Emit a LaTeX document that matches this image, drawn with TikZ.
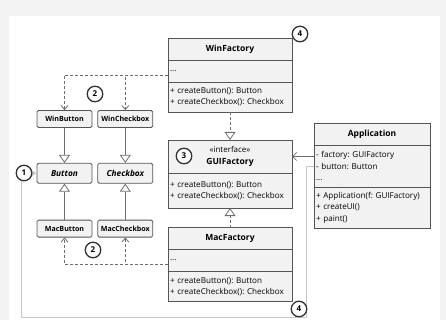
\documentclass[tikz,border=0pt]{standalone}
\usepackage{fontspec}
\setmainfont{Open Sans}
\usetikzlibrary{arrows.meta,positioning}
\frenchspacing
\definecolor{umlline}{HTML}{555555}
\definecolor{umlfill}{HTML}{F2F2F2}
\definecolor{pagegray}{HTML}{F3F3F3}
\definecolor{ghostline}{HTML}{C8C8C8}
\tikzset{
	classhead/.style={rectangle, draw=umlline, fill=umlfill, line width=0.8pt, outer sep=0pt,
		text width=120pt, inner xsep=2pt, align=center, minimum height=22pt,
		font=\fontsize{8.5}{10}\selectfont\bfseries},
	classpart/.style={rectangle, draw=umlline, fill=umlfill, line width=0.8pt, outer sep=0pt,
		text width=120pt, inner xsep=2pt, align=left, minimum height=22pt,
		font=\fontsize{8.1}{10.5}\selectfont},
	smallbox/.style={rectangle, draw=umlline, fill=umlfill, rounded corners=1.5pt, line width=0.8pt,
		minimum width=55pt, minimum height=17pt, inner sep=1pt, font=\fontsize{7.1}{8}\selectfont\bfseries},
	stepnum/.style={circle, draw=black!80, fill=white, line width=1.3pt, minimum size=15.5pt,
		inner sep=0pt, font=\fontsize{8}{8}\selectfont\bfseries},
	inheritarr/.style={-{Triangle[open, length=8pt, width=11pt, fill=white]}, draw=umlline!85, line width=0.8pt},
	realizearr/.style={inheritarr, dash pattern=on 3pt off 2pt},
	deparr/.style={-{Straight Barb[length=4pt, width=7pt]}, draw=umlline!85, line width=0.8pt, dash pattern=on 3pt off 2pt},
	assocarr/.style={-{Straight Barb[length=4pt, width=8pt]}, draw=umlline!85, line width=0.8pt},
	ghostarr/.style={-{Triangle[length=5pt, width=6pt, fill=ghostline]}, draw=ghostline, line width=0.8pt}
}
\begin{document}
\begin{tikzpicture}[x=1pt, y=-1pt]
	\fill[pagegray] (0,0) rectangle (446,320);
	\fill[white] (9,16) rectangle (440,320);
	% factories
	\node[classhead] (wfhead) at (230,49) {WinFactory};
	\node[classpart, below=0pt of wfhead] (wfattr) {...};
	\node[classpart, below=0pt of wfattr, minimum height=30pt] (wfops) {+ createButton(): Button\\+ createCheckbox(): Checkbox};
	\node[classhead, minimum height=33pt, font=\fontsize{8}{11.5}\selectfont] (guihead) at (230,156.5) {«interface»\\\textbf{\fontsize{8.5}{11.5}\selectfont GUIFactory}};
	\node[classpart, below=0pt of guihead, minimum height=35pt] (guiops) {+ createButton(): Button\\+ createCheckbox(): Checkbox};
	\node[classhead] (mfhead) at (230,238.5) {MacFactory};
	\node[classpart, below=0pt of mfhead] (mfattr) {...};
	\node[classpart, below=0pt of mfattr, minimum height=30pt] (mfops) {+ createButton(): Button\\+ createCheckbox(): Checkbox};
	% client
	\node[classhead, text width=112pt] (apphead) at (372,134) {Application};
	\node[classpart, text width=112pt, below=0pt of apphead, minimum height=42pt, font=\fontsize{8.1}{11.8}\selectfont] (appfld) {- factory: GUIFactory\\- button: Button\\...};
	\node[classpart, text width=112pt, below=0pt of appfld, minimum height=41pt, font=\fontsize{8.1}{11.5}\selectfont] (appops) {+ Application(f: GUIFactory)\\+ createUI()\\+ paint()};
	% products
	\node[smallbox] (winbtn) at (64.5,119) {WinButton};
	\node[smallbox, right=5pt of winbtn] (wincb) {WinCheckbox};
	\node[smallbox, below=35pt of winbtn, minimum height=20pt, font=\fontsize{8.3}{9}\selectfont\bfseries\itshape] (btn) {Button};
	\node[smallbox, right=5pt of btn, minimum height=20pt, font=\fontsize{8.3}{9}\selectfont\bfseries\itshape] (cb) {Checkbox};
	\node[smallbox, below=36pt of btn] (macbtn) {MacButton};
	\node[smallbox, right=5pt of macbtn] (maccb) {MacCheckbox};
	% connectors
	\draw[ghostarr] (appfld.west) -- ++(-8,0) |- (21,317) |- (btn.west);
	\draw[inheritarr] (winbtn) -- (btn);
	\draw[inheritarr] (wincb) -- (cb);
	\draw[inheritarr] (macbtn) -- (btn);
	\draw[inheritarr] (maccb) -- (cb);
	\draw[realizearr] (wfops) -- (guihead);
	\draw[realizearr] (mfhead) -- (guiops);
	\draw[deparr] ([yshift=-4pt]wfattr.west) -| (winbtn);
	\draw[deparr] ([yshift=-4pt]wfattr.west) -| (wincb);
	\draw[deparr] ([yshift=-4pt]mfattr.west) -| (macbtn);
	\draw[deparr] ([yshift=-4pt]mfattr.west) -| (maccb);
	\draw[assocarr] (guihead.east -| appfld.west) -- (guihead.east);
	% step markers
	\node[stepnum] (s1) at (24,173) {1};
	\node[stepnum] (s2a) at (95,94) {2};
	\node[stepnum] (s2b) at (93,250) {2};
	\node[stepnum] (s3) at (184,156) {3};
	\node[stepnum] (s4a) at (300,34) {4};
	\node[stepnum] (s4b) at (299,309) {4};
\end{tikzpicture}
\end{document}
